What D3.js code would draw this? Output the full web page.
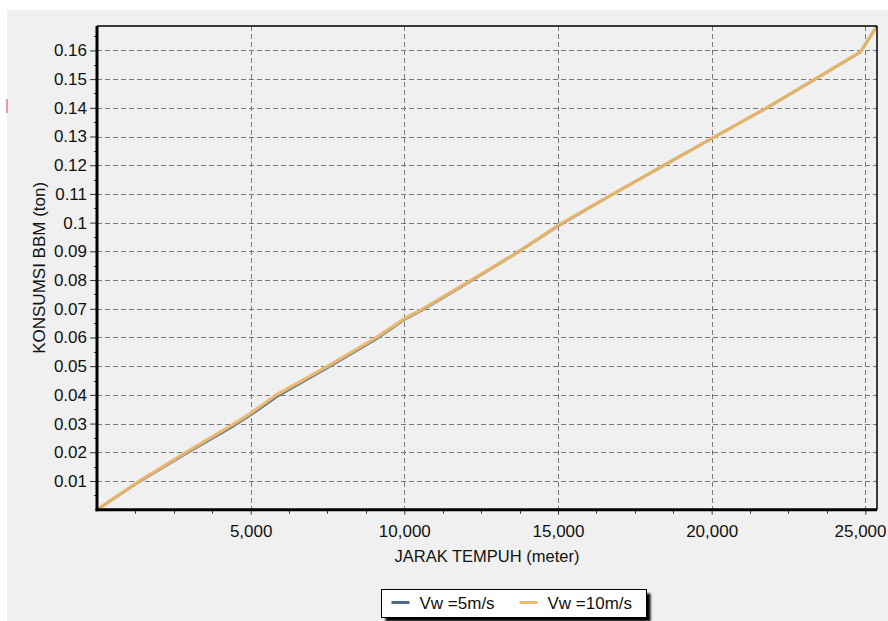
<!DOCTYPE html>
<html>
<head>
<meta charset="utf-8">
<script src="https://cdn.jsdelivr.net/npm/d3@7"></script>
<style>
  html, body { margin: 0; padding: 0; background: #ffffff; }
  svg { display: block; }
  text { font-family: "Liberation Sans", Arial, sans-serif; fill: #111; }
</style>
</head>
<body>
<svg id="chart" width="888" height="621"></svg>
<script>
// Fuel consumption (ton) against distance travelled (m) for two wind speeds
const distance = [0, 1384, 2906, 4479, 5000, 5837, 7508, 9094, 10000, 10612, 12189, 13707, 15000, 16750, 18420, 20000, 21798, 23371, 24837, 25380];
const fuelVw5  = [0, 0.0098, 0.0196, 0.0294, 0.0330, 0.0393, 0.0495, 0.0595, 0.0662, 0.0697, 0.0798, 0.0898, 0.0988, 0.1097, 0.1198, 0.1293, 0.1400, 0.1500, 0.1594, 0.1685];
const fuelVw10 = [0, 0.0100, 0.0200, 0.0300, 0.0336, 0.0400, 0.0500, 0.0600, 0.0665, 0.0700, 0.0800, 0.0898, 0.0990, 0.1097, 0.1198, 0.1293, 0.1400, 0.1500, 0.1594, 0.1685];

const seriesNames = ["Vw =5m/s", "Vw =10m/s"];
const seriesColors = ["#4f6a8c", "#ecba6c"];

const xTickValues = [5000, 10000, 15000, 20000, 25000];
const xTickLabels = ["5,000", "10,000", "15,000", "20,000", "25,000"];
const yTickValues = [0.01, 0.02, 0.03, 0.04, 0.05, 0.06, 0.07, 0.08, 0.09, 0.1, 0.11, 0.12, 0.13, 0.14, 0.15, 0.16];
const yTickLabels = ["0.01", "0.02", "0.03", "0.04", "0.05", "0.06", "0.07", "0.08", "0.09", "0.1", "0.11", "0.12", "0.13", "0.14", "0.15", "0.16"];

const xTitle = "JARAK TEMPUH (meter)";
const yTitle = "KONSUMSI BBM (ton)";

const svg = d3.select("#chart");
const W = 888, H = 621;
const plot = { left: 97, right: 877, top: 26, bottom: 509.7 };

// panel background
svg.append("rect").attr("x", 7).attr("y", 10).attr("width", W - 7).attr("height", H - 10).attr("fill", "#f0f0f0");
// small red mark at the far left edge
svg.append("rect").attr("x", 6).attr("y", 99).attr("width", 2).attr("height", 14).attr("fill", "#e07080").attr("opacity", 0.7);

const x = d3.scaleLinear().domain([0, d3.max(distance)]).range([plot.left, plot.right]);
const y = d3.scaleLinear().domain([0, d3.max(fuelVw10)]).range([plot.bottom, plot.top]);

// dashed grid
const grid = svg.append("g").attr("stroke", "#7a7a7a").attr("stroke-width", 1).attr("stroke-dasharray", "5,3");
grid.selectAll("line.gy").data(yTickValues).join("line")
  .attr("x1", plot.left).attr("x2", plot.right)
  .attr("y1", d => Math.round(y(d)) + 0.5).attr("y2", d => Math.round(y(d)) + 0.5);
grid.selectAll("line.gx").data(xTickValues).join("line")
  .attr("y1", plot.top).attr("y2", plot.bottom)
  .attr("x1", d => Math.round(x(d)) + 0.5).attr("x2", d => Math.round(x(d)) + 0.5);

// axes
const xAxis = d3.axisBottom(x).tickValues(xTickValues).tickFormat((d, i) => xTickLabels[i]).tickSize(5).tickPadding(10);
const yAxis = d3.axisLeft(y).tickValues(yTickValues).tickFormat((d, i) => yTickLabels[i]).tickSize(7).tickPadding(3);

const gx = svg.append("g").attr("transform", `translate(0,${plot.bottom})`).call(xAxis);
const gy = svg.append("g").attr("transform", `translate(${plot.left},0)`).call(yAxis);
[gx, gy].forEach(g => {
  g.select(".domain").remove();
  g.selectAll(".tick line").attr("stroke", "#333").attr("stroke-width", 1);
  g.selectAll(".tick text").style("font-size", "17px").attr("fill", "#222");
});
// keep the last x label inside the panel edge
gx.selectAll(".tick text").filter(d => d === d3.max(xTickValues))
  .attr("text-anchor", "end").attr("x", W - 2 - x(d3.max(xTickValues)));

// minor ticks
const xMinor = d3.range(1250, d3.max(distance), 1250).filter(v => v % 5000 !== 0);
svg.append("g").selectAll("line").data(xMinor).join("line")
  .attr("x1", d => Math.round(x(d)) + 0.5).attr("x2", d => Math.round(x(d)) + 0.5)
  .attr("y1", plot.bottom).attr("y2", plot.bottom + 4).attr("stroke", "#333");
const yMinor = d3.range(0.005, d3.max(fuelVw10), 0.01);
svg.append("g").selectAll("line").data(yMinor).join("line")
  .attr("y1", d => Math.round(y(d)) + 0.5).attr("y2", d => Math.round(y(d)) + 0.5)
  .attr("x1", plot.left - 3).attr("x2", plot.left).attr("stroke", "#333");

// series lines
const line = vals => d3.line().x((d, i) => x(distance[i])).y((d, i) => y(vals[i]))(vals);
const lineG = svg.append("g").attr("fill", "none").attr("stroke-linejoin", "round");
lineG.append("path").attr("d", line(fuelVw5)).attr("stroke", seriesColors[0]).attr("stroke-width", 2.5);
lineG.append("path").attr("d", line(fuelVw10)).attr("stroke", seriesColors[1]).attr("stroke-width", 3.5).attr("opacity", 0.92);

// plot frame: heavy left/bottom, thin top/right
svg.append("line").attr("x1", plot.left).attr("x2", plot.right).attr("y1", plot.top).attr("y2", plot.top).attr("stroke", "#000").attr("stroke-width", 1.5);
svg.append("line").attr("x1", plot.right).attr("x2", plot.right).attr("y1", plot.top).attr("y2", plot.bottom).attr("stroke", "#000").attr("stroke-width", 1.5);
svg.append("line").attr("x1", plot.left).attr("x2", plot.left).attr("y1", plot.top).attr("y2", plot.bottom + 1.5).attr("stroke", "#000").attr("stroke-width", 3);
svg.append("line").attr("x1", plot.left - 1.5).attr("x2", plot.right).attr("y1", plot.bottom).attr("y2", plot.bottom).attr("stroke", "#000").attr("stroke-width", 3);

// axis titles
svg.append("text").attr("x", (plot.left + plot.right) / 2).attr("y", 562)
  .attr("text-anchor", "middle").style("font-size", "16.5px").attr("fill", "#222").text(xTitle);
svg.append("text").attr("transform", `translate(45,${(plot.top + plot.bottom) / 2}) rotate(-90)`)
  .attr("text-anchor", "middle").style("font-size", "17px").attr("fill", "#222").text(yTitle);

// legend with drop shadow
const defs = svg.append("defs");
defs.append("filter").attr("id", "soft").append("feGaussianBlur").attr("stdDeviation", 1.2);
const lg = svg.append("g").attr("transform", "translate(381.5,589.5)");
const lw = 265, lh = 28;
lg.append("rect").attr("x", 4).attr("y", 4).attr("width", lw).attr("height", lh).attr("fill", "#000").attr("filter", "url(#soft)");
lg.append("rect").attr("width", lw).attr("height", lh).attr("fill", "#ffffff").attr("stroke", "#000").attr("stroke-width", 1);
const entryX = [10, 138];
seriesNames.forEach((name, i) => {
  lg.append("line").attr("x1", entryX[i]).attr("x2", entryX[i] + 18).attr("y1", 13).attr("y2", 13)
    .attr("stroke", seriesColors[i]).attr("stroke-width", 3);
  lg.append("text").attr("x", entryX[i] + 28).attr("y", 19).style("font-size", "17px").attr("fill", "#222").text(name);
});
</script>
</body>
</html>
